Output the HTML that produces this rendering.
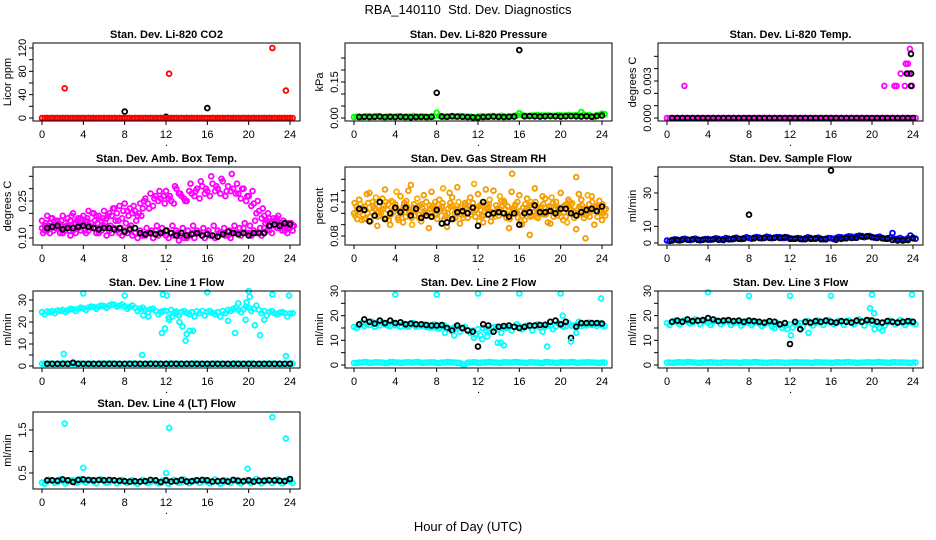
<!DOCTYPE html>
<html><head><meta charset="utf-8"><style>
html,body{margin:0;padding:0;background:#fff;}
svg{display:block;font-family:"Liberation Sans",Arial,sans-serif;}
</style></head><body>
<svg id="chart" width="936" height="540" viewBox="0 0 936 540" xmlns="http://www.w3.org/2000/svg">
<text x="468" y="14" text-anchor="middle" font-size="13">RBA_140110&#160; Std. Dev. Diagnostics</text>
<text x="468" y="531" text-anchor="middle" font-size="13">Hour of Day (UTC)</text>
</svg>
<script>
// ---------- data (colored series: x = start + 0.5*i; black series: x = 0.5..24 step 0.5) ----------
const xTicks = [0,4,8,12,16,20,24];
const xTickLabels = ["0","4","8","12","16","20","24"];

const co2Red = [0,0,0,0,0,0,0,0,0,0,0,0,0,0,0,0,0,0,0,0,0,0,0,0,0,0,0,0,0,0,0,0,0,0,0,0,0,0,0,0,0,0,0,0,0,0,0,0,0];
const co2Black = [0,0,0,0,0,0,0,0,0,0,0,0,0,0,0,11,0,0,0,0,0,0,0,2,0,0,0,0,0,0,0,17,0,0,0,0,0,0,0,0,0,0,0,0,0,0,0,0];
const co2OutX = [2.2,12.3,22.3,23.6];
const co2OutY = [51,76,120,47];

const presGreen = [0.004,0.006,0.005,0.007,0.005,0.006,0.004,0.006,0.005,0.007,0.006,0.005,0.006,0.004,0.005,0.006,0.022,0.007,0.006,0.008,0.006,0.007,0.005,0.004,0.006,0.007,0.006,0.008,0.005,0.007,0.006,0.009,0.020,0.010,0.008,0.011,0.009,0.010,0.008,0.009,0.011,0.010,0.008,0.012,0.025,0.010,0.007,0.012,0.018];
const presGreen2 = [0.006,0.004,0.007,0.005,0.008,0.004,0.006,0.005,0.007,0.004,0.006,0.008,0.005,0.006,0.004,0.007,0.009,0.005,0.007,0.006,0.008,0.005,0.006,0.003,0.007,0.005,0.008,0.006,0.009,0.005,0.007,0.010,0.012,0.008,0.010,0.012,0.010,0.011,0.009,0.012,0.010,0.013,0.011,0.009,0.014,0.012,0.004,0.013,0.016];
const presBlack = [0.004,0.005,0.004,0.005,0.006,0.004,0.005,0.004,0.005,0.004,0.003,0.004,0.005,0.004,0.005,0.105,0.006,0.005,0.007,0.006,0.005,0.004,0.003,0.002,0.004,0.005,0.006,0.005,0.004,0.005,0.006,0.283,0.007,0.008,0.007,0.006,0.007,0.008,0.007,0.006,0.007,0.008,0.007,0.006,0.007,0.005,0.008,0.010];

const tempMag = [0,0,0,0,0,0,0,0,0,0,0,0,0,0,0,0,0,0,0,0,0,0,0,0,0,0,0,0,0,0,0,0,0,0,0,0,0,0,0,0,0,0,0,0,0,0,0,0,0];
const tempBlack = [0,0,0,0,0,0,0,0,0,0,0,0,0,0,0,0,0,0,0,0,0,0,0,0,0,0,0,0,0,0,0,0,0,0,0,0,0,0,0,0,0,0,0,0,0,0,0,0];
const tempOutX = [1.7,21.2,22.2,22.4,22.8,23.2,23.3,23.5,23.6,23.7,23.9];
const tempOutY = [0.0026,0.0026,0.0026,0.0026,0.0036,0.0026,0.0044,0.0044,0.0036,0.0056,0.0026];
const tempBlackOutX = [23.4,23.8,23.8,23.8];
const tempBlackOutY = [0.0036,0.0052,0.0036,0.0026];

const ambLow = [0.14,0.13,0.15,0.14,0.12,0.15,0.13,0.14,0.16,0.13,0.14,0.12,0.15,0.13,0.14,0.12,0.13,0.14,0.12,0.13,0.11,0.12,0.13,0.12,0.11,0.12,0.13,0.11,0.10,0.12,0.13,0.11,0.12,0.11,0.13,0.12,0.11,0.13,0.12,0.14,0.12,0.13,0.12,0.14,0.13,0.15,0.14,0.13,0.14];
const ambHigh = [0.17,0.19,0.18,0.17,0.19,0.18,0.20,0.18,0.19,0.21,0.20,0.19,0.21,0.20,0.22,0.23,0.24,0.22,0.21,0.24,0.26,0.28,0.27,0.26,0.29,0.25,0.30,0.27,0.25,0.28,0.30,0.31,0.29,0.32,0.30,0.33,0.31,0.30,0.28,0.30,0.27,0.24,0.21,0.19,0.18,0.17,0.16,0.15,0.16];
const ambMid = [0.15,0.16,0.17,0.15,0.16,0.17,0.16,0.18,0.17,0.16,0.19,0.17,0.18,0.19,0.20,0.18,0.21,0.20,0.19,0.22,0.24,0.23,0.25,0.27,0.26,0.24,0.28,0.26,0.29,0.27,0.26,0.28,0.27,0.29,0.28,0.27,0.29,0.28,0.26,0.25,0.23,0.20,0.18,0.17,0.16,0.18,0.15,0.14,0.15];
const ambLow2 = [0.13,0.12,0.14,0.12,0.13,0.11,0.12,0.13,0.12,0.14,0.12,0.13,0.11,0.12,0.13,0.11,0.12,0.11,0.10,0.11,0.12,0.10,0.11,0.12,0.10,0.11,0.09,0.10,0.11,0.10,0.12,0.10,0.11,0.10,0.12,0.11,0.10,0.12,0.11,0.12,0.11,0.12,0.11,0.13,0.12,0.14,0.13,0.12,0.13];
const ambE = [0.16,0.18,0.14,0.17,0.15,0.19,0.17,0.15,0.18,0.20,0.16,0.18,0.19,0.22,0.17,0.21,0.19,0.23,0.20,0.25,0.22,0.26,0.29,0.24,0.27,0.31,0.28,0.25,0.32,0.29,0.33,0.30,0.35,0.31,0.34,0.29,0.36,0.32,0.30,0.27,0.29,0.25,0.22,0.20,0.18,0.19,0.17,0.16,0.15];
const ambF = [0.12,0.15,0.13,0.16,0.14,0.13,0.16,0.15,0.13,0.15,0.17,0.14,0.16,0.15,0.17,0.14,0.16,0.15,0.17,0.19,0.14,0.13,0.15,0.14,0.13,0.15,0.12,0.14,0.13,0.15,0.12,0.14,0.13,0.15,0.12,0.14,0.13,0.15,0.14,0.16,0.15,0.17,0.14,0.16,0.15,0.17,0.16,0.15,0.16];
const ambBlack = [0.14,0.145,0.15,0.135,0.14,0.14,0.145,0.15,0.145,0.14,0.135,0.14,0.14,0.135,0.14,0.125,0.135,0.14,0.12,0.115,0.12,0.115,0.12,0.13,0.12,0.11,0.12,0.11,0.115,0.12,0.11,0.115,0.11,0.105,0.115,0.125,0.12,0.115,0.12,0.11,0.12,0.12,0.12,0.15,0.155,0.15,0.16,0.155];

const rhA = [0.100,0.112,0.095,0.118,0.104,0.098,0.121,0.090,0.108,0.115,0.097,0.125,0.102,0.093,0.110,0.119,0.099,0.106,0.088,0.114,0.123,0.101,0.096,0.109,0.117,0.092,0.105,0.120,0.098,0.111,0.087,0.103,0.116,0.094,0.107,0.122,0.100,0.113,0.091,0.104,0.118,0.097,0.108,0.086,0.112,0.099,0.115,0.106,0.094];
const rhB = [0.106,0.094,0.117,0.101,0.089,0.113,0.103,0.110,0.096,0.092,0.120,0.105,0.099,0.116,0.087,0.104,0.112,0.095,0.118,0.100,0.091,0.109,0.114,0.097,0.103,0.121,0.093,0.107,0.111,0.096,0.119,0.101,0.090,0.113,0.098,0.105,0.115,0.092,0.109,0.102,0.094,0.112,0.100,0.117,0.096,0.108,0.090,0.111,0.103];
const rhC = [0.098,0.108,0.103,0.093,0.114,0.100,0.096,0.111,0.119,0.102,0.106,0.090,0.113,0.105,0.101,0.097,0.108,0.122,0.104,0.095,0.110,0.099,0.106,0.126,0.093,0.101,0.112,0.097,0.115,0.104,0.099,0.108,0.094,0.103,0.110,0.097,0.106,0.101,0.114,0.098,0.105,0.092,0.109,0.103,0.099,0.116,0.102,0.107,0.100];
const rhD = [0.103,0.099,0.109,0.106,0.101,0.107,0.094,0.104,0.102,0.109,0.101,0.098,0.107,0.100,0.104,0.110,0.102,0.097,0.106,0.103,0.099,0.105,0.102,0.104,0.098,0.107,0.101,0.104,0.100,0.106,0.103,0.096,0.105,0.101,0.108,0.102,0.099,0.106,0.103,0.100,0.107,0.104,0.101,0.105,0.099,0.103,0.106,0.101,0.104];
const rhE = [0.109,0.101,0.106,0.097,0.108,0.103,0.110,0.099,0.105,0.100,0.111,0.096,0.104,0.108,0.098,0.106,0.095,0.109,0.100,0.107,0.104,0.096,0.110,0.101,0.106,0.098,0.108,0.100,0.104,0.109,0.095,0.106,0.102,0.108,0.097,0.110,0.104,0.099,0.106,0.110,0.097,0.108,0.103,0.098,0.107,0.101,0.110,0.097,0.108];
const rhF = [0.095,0.105,0.100,0.110,0.097,0.104,0.108,0.101,0.094,0.106,0.103,0.108,0.096,0.102,0.107,0.099,0.104,0.101,0.109,0.096,0.105,0.107,0.099,0.103,0.108,0.104,0.097,0.102,0.106,0.099,0.104,0.110,0.098,0.105,0.101,0.096,0.108,0.103,0.097,0.105,0.101,0.110,0.096,0.106,0.104,0.097,0.105,0.102,0.098];
const rhBlack = [0.104,0.103,0.093,0.098,0.110,0.095,0.100,0.105,0.101,0.105,0.098,0.104,0.096,0.098,0.097,0.103,0.091,0.092,0.095,0.101,0.102,0.100,0.105,0.089,0.110,0.099,0.100,0.101,0.100,0.097,0.100,0.090,0.100,0.101,0.107,0.101,0.101,0.102,0.100,0.104,0.104,0.100,0.098,0.101,0.103,0.104,0.102,0.106];
const rhOutX = [15.3,17.0,22.4,21.5];
const rhOutY = [0.135,0.081,0.078,0.132];

const flowBlue = [1.5,1.8,2.0,2.2,2.0,2.3,2.1,2.0,2.4,2.2,2.5,2.3,2.6,2.8,2.5,2.9,3.0,3.2,3.3,3.0,3.4,3.2,3.5,3.0,2.8,2.6,2.7,2.9,3.0,2.8,2.6,2.5,2.8,3.0,3.4,3.6,3.8,4.0,4.2,3.9,3.6,3.4,3.0,2.8,6.0,2.5,2.2,2.8,3.2];
const flowBlue2 = [1.2,2.2,1.5,2.5,1.8,2.6,1.6,2.4,2.0,2.8,2.1,3.0,2.2,3.2,2.4,3.4,2.6,3.6,2.8,3.8,2.9,3.6,3.0,3.4,2.5,3.0,2.2,3.4,2.5,3.2,2.2,3.0,2.4,3.6,2.9,4.0,3.2,4.4,3.5,4.2,3.2,3.8,2.6,3.2,2.4,3.0,2.0,4.5,2.6];
const flowBlack = [1.5,1.8,2.0,2.0,2.1,1.9,2.0,2.0,2.2,2.0,1.8,2.2,2.4,2.5,2.6,17,2.8,3.0,3.2,3.0,3.1,3.0,3.5,2.5,2.5,2.4,2.3,2.5,2.6,2.3,2.2,43.5,2.0,2.5,2.8,3.0,3.1,3.8,4.0,3.5,3.0,2.8,2.5,1.8,1.5,1.5,1.8,2.8];

const line1Cyan = [24.5,24.8,25,25.2,25.5,25.3,25.8,26,26.2,26.5,26.8,27,27.2,27.5,27.8,27.5,27,26.8,26.5,26,25.5,25.8,25,24.5,25,25.5,24.8,24.5,24.2,24.5,24.8,25,24.5,24.2,24.5,25,25.5,26,25.5,25.8,26.5,26,25.5,25,24.5,24,24.2,24,23.8];
const line1Cyan2 = [23.5,24.5,24,25,24.5,26,25,26.5,25.5,27,26,27.5,26.5,28,27,28,26,27.5,25,26.5,24.5,26,23.5,25,22,24,23,25,23.5,22.5,24,23,25,23.5,22.5,24,25,26.5,24.5,27,25,27.5,24,23,25,23.5,24.5,22.5,24];
const line1Low = [1.0,1.1,0.9,1.0,1.2,1.0,0.9,1.1,1.0,1.0,0.9,1.1,1.0,1.2,1.0,0.9,1.0,1.1,1.0,0.9,1.0,1.1,1.0,0.8,1.0,1.1,1.0,0.9,1.0,1.1,1.0,1.0,0.9,1.1,1.0,1.0,0.9,1.1,1.0,1.0,1.1,0.9,1.0,1.0,1.1,1.0,0.9,1.0,1.1];
const line1Black = [1,1,1,1,1,1.5,1,1,1,1,1,1,1,1,1,1,1,1,1,1,1,1,1,1,1,1,1,1,1,1,1,1,1,1,1,1,1,1,1,1,1,1,1,1,1,1,1,1];
const line1OutX = [4,8,16,20,22.3,23.9,11.7,12.1,11.6,11.9,12.3,12.6,13,13.3,13.6,13.9,14,14.3,14.6,9.8,10.3,18,18.7,19.7,20.6,21.1,21.5,2.1,9.7,23.6,20.1,19.8,19];
const line1OutY = [33,32,33.5,34,32.5,32,32.5,32,15,17,21,22.5,24,20,18,11.5,14.5,16,16,23,22.5,20.5,15,21,18.5,14,21,5.5,5,4.5,31.5,29,28.5];

const line2Cyan = [15.5,16,15.8,16.2,15.5,16,16.5,15.8,16,15.5,15.8,16.2,15.5,15.8,15.5,15.2,15,15.5,15.2,14.8,15,14.5,14.2,14,14.5,15,14.8,15.2,14.5,15,15.2,15.5,15.8,15.2,15.5,15.8,15.2,15.5,16,15.5,16.2,15.8,16,16.2,15.8,16,16.2,15.8,16];
const line2Cyan2 = [15,17,16.5,17.5,16.8,17.2,16,17,16.5,16.8,15.5,17,16,16.5,15.2,16.5,14.8,16,14.5,15.5,13.5,15.5,13,12.5,12,14,13.5,15.5,13,15,14,16.5,14.5,16,14,16.5,13.5,16,14.5,17,15.5,17,16,17.5,16.2,17.2,16.5,17,15.8];
const line2Low = [0.8,1.0,1.2,0.9,1.1,1.0,0.8,1.2,1.0,0.9,1.1,1.0,1.2,0.9,1.0,1.1,0.8,1.0,1.2,1.0,0.9,0.3,1.0,1.1,0.9,1.0,1.2,1.0,0.9,1.1,1.0,1.2,1.0,0.9,1.1,1.0,0.8,1.2,1.0,0.9,1.1,1.0,1.2,0.9,1.0,1.1,1.0,0.9,1.0];
const line2Black = [16.5,18.5,17.5,16.8,18,17,18,17,17.3,16.5,16.8,16.5,16.5,16.2,16,16,16.2,15,14,16,15,14,13.5,7.5,16.5,16,13.5,15.5,15.8,16,15.5,15,15.5,16,16,16.2,16.3,17.5,18,16.5,17.5,11,15.5,17,17,17,17,16.8];
const line2OutX = [4,8,12,16,20,23.9,20.2,9.7,8.8,11.6,12.4,12.9,13.9,14.2,14.5,18.7,21,21.5];
const line2OutY = [28.5,28.5,29,29,29,27,20,12,13,11,10.5,11.5,9,9,8,7.5,9.5,13];

const line3Cyan = [17,17.5,17.2,17.8,17.5,17.2,17.8,17.5,17.2,17.5,17.8,17.2,17.5,17,17.2,16.8,17,17.2,16.8,16.5,16.8,16.5,16.2,15.8,16.5,16.8,17,17.2,16.8,17,17.2,17.5,17.2,17,17.5,17.8,17.2,17.5,17.8,17.5,16.8,16.5,17,17.2,17.5,17.2,17,17.2,17];
const line3Cyan2 = [16.2,18,16.5,18.2,16.8,18.5,16.5,18,16.2,18.2,16.5,18,16.2,17.5,16,17.8,16.2,17.5,15.8,17.2,15.5,17,15,14.5,15.2,16.5,15.5,17.8,16,18,16.2,18.2,16.5,17.8,16.2,18,16.5,18.5,16,18.2,14.5,15,16,18,16.5,18.2,16.2,17.8,16.5];
const line3Low = [1.0,0.9,1.1,1.0,1.2,1.0,0.9,1.0,1.1,1.0,0.9,1.1,1.0,1.0,0.9,1.1,1.0,1.2,1.0,0.9,1.0,1.1,1.0,0.9,1.0,1.1,1.0,1.0,0.9,1.1,1.0,1.0,0.9,1.1,1.0,1.2,1.0,0.9,1.0,1.1,1.0,1.2,1.0,0.9,1.1,1.0,1.0,0.9,1.0];
const line3Black = [17.5,18,17.5,18.5,17.8,18,18.2,19,18.5,17.8,18,18.2,17.8,18,17.5,18,17.8,17.5,17.2,17.8,17.5,16.5,17,8.5,17.5,14.5,17.5,17.2,17.8,17.5,18,17.5,17.2,17.8,17.5,17.2,18,17.5,18.2,18,17.5,17.2,17.8,17.5,17.2,17.5,17.8,17.5];
const line3OutX = [4,8,12,16,20,23.9,19.8,20.2,21,12.1,10.5,13.8];
const line3OutY = [29.5,28,28,28,28.5,28.5,23,21,14,12,15,13];

const line4Cyan = [0.28,0.30,0.32,0.29,0.31,0.30,0.33,0.29,0.31,0.32,0.30,0.34,0.31,0.29,0.32,0.30,0.31,0.29,0.28,0.30,0.31,0.29,0.30,0.27,0.31,0.30,0.32,0.29,0.31,0.30,0.32,0.30,0.29,0.31,0.30,0.28,0.31,0.32,0.29,0.31,0.30,0.32,0.31,0.30,0.33,0.31,0.30,0.32,0.31];
const line4Cyan2 = [0.25,0.34,0.27,0.35,0.26,0.33,0.27,0.36,0.28,0.34,0.26,0.35,0.27,0.33,0.26,0.34,0.27,0.33,0.25,0.34,0.27,0.32,0.26,0.33,0.25,0.34,0.27,0.35,0.26,0.33,0.27,0.34,0.26,0.35,0.25,0.33,0.27,0.34,0.26,0.33,0.27,0.36,0.26,0.34,0.27,0.35,0.26,0.34,0.27];
const line4Black = [0.33,0.33,0.32,0.35,0.33,0.29,0.34,0.35,0.34,0.33,0.34,0.33,0.34,0.33,0.32,0.31,0.30,0.31,0.30,0.31,0.34,0.33,0.29,0.33,0.30,0.31,0.34,0.30,0.31,0.33,0.34,0.33,0.30,0.31,0.32,0.30,0.34,0.32,0.31,0.33,0.30,0.32,0.32,0.33,0.33,0.32,0.31,0.36];
const line4OutX = [2.2,12.3,22.3,23.6,4,19.9,12];
const line4OutY = [1.65,1.55,1.8,1.3,0.62,0.6,0.5];

// ---------- layout ----------
const NS = "http://www.w3.org/2000/svg";
const svg = document.getElementById("chart");
const cols = [[33,300],[345,612],[658,923]];
const rows = [[43,121],[167,245],[291,368],[412,489]];

function mk(tag, attrs, parent) {
  const e = document.createElementNS(NS, tag);
  for (const k in attrs) e.setAttribute(k, attrs[k]);
  (parent || svg).appendChild(e);
  return e;
}
function range(a, b, s) { const r = []; for (let v = a; v <= b + s * 1e-6; v += s) r.push(+v.toFixed(6)); return r; }

const panels = [
  {title:"Stan. Dev. Li-820 CO2", ylab:"Licor ppm", c:0, r:0, cal:[0,118,120,48], ticks:range(0,120,20), labs:{0:"0",40:"40",80:"80",120:"120"},
   series:[{ys:co2Black,start:0.5,col:"#000"},{ys:co2Red,start:0,col:"#f00"},{ys:co2Red,start:0.25,col:"#f00"}], outs:[{xs:co2OutX,ys:co2OutY,col:"#f00"}]},
  {title:"Stan. Dev. Li-820 Pressure", ylab:"kPa", c:1, r:0, cal:[0,118,0.15,82], ticks:range(0,0.25,0.05), labs:{0:"0.00",0.15:"0.15"},
   series:[{ys:presGreen,start:0,col:"#0f0"},{ys:presGreen2,start:0.25,col:"#0f0"},{ys:presBlack,start:0.5,col:"#000"}], outs:[]},
  {title:"Stan. Dev. Li-820 Temp.", ylab:"degrees C", c:2, r:0, cal:[0,118,0.003,81], ticks:range(0,0.005,0.001), labs:{0:"0.000",0.003:"0.003"},
   series:[{ys:tempMag,start:0,col:"#f0f"},{ys:tempMag,start:0.25,col:"#f0f"},{ys:tempBlack,start:0.5,col:"#000"}], outs:[{xs:tempOutX,ys:tempOutY,col:"#f0f"},{xs:tempBlackOutX,ys:tempBlackOutY,col:"#000"}]},
  {title:"Stan. Dev. Amb. Box Temp.", ylab:"degrees C", c:0, r:1, cal:[0.10,238,0.25,201], ticks:range(0.10,0.35,0.05), labs:{0.1:"0.10",0.25:"0.25"},
   series:[{ys:ambLow,start:0,col:"#f0f"},{ys:ambLow2,start:0.25,col:"#f0f"},{ys:ambF,start:0.12,col:"#f0f"},{ys:ambMid,start:0.25,col:"#f0f"},{ys:ambE,start:0.37,col:"#f0f"},{ys:ambHigh,start:0,col:"#f0f"},{ys:ambBlack,start:0.5,col:"#000"}], outs:[]},
  {title:"Stan. Dev. Gas Stream RH", ylab:"percent", c:1, r:1, cal:[0.08,236,0.11,202], ticks:range(0.08,0.13,0.01), labs:{0.08:"0.08",0.11:"0.11"},
   series:[{ys:rhA,start:0,col:"#f59a00"},{ys:rhB,start:0.25,col:"#f59a00"},{ys:rhC,start:0.12,col:"#f5b000"},{ys:rhD,start:0.37,col:"#f59a00"},{ys:rhE,start:0.06,col:"#f5a000"},{ys:rhF,start:0.31,col:"#f5a000"},{ys:rhBlack,start:0.5,col:"#000"}], outs:[{xs:rhOutX,ys:rhOutY,col:"#f59a00"}]},
  {title:"Stan. Dev. Sample Flow", ylab:"ml/min", c:2, r:1, cal:[0,243,30,193], ticks:range(0,40,10), labs:{0:"0",10:"10",30:"30"},
   series:[{ys:flowBlue,start:0,col:"#00f"},{ys:flowBlue2,start:0.25,col:"#00f"},{ys:flowBlack,start:0.5,col:"#000"}], outs:[]},
  {title:"Stan. Dev. Line 1 Flow", ylab:"ml/min", c:0, r:2, cal:[0,366,30,300], ticks:range(0,30,5), labs:{0:"0",10:"10",20:"20",30:"30"},
   series:[{ys:line1Cyan,start:0,col:"#0ff"},{ys:line1Cyan2,start:0.25,col:"#0ff"},{ys:line1Low,start:0,col:"#0ff"},{ys:line1Low,start:0.25,col:"#0ff"},{ys:line1Black,start:0.5,col:"#000"}], outs:[{xs:line1OutX,ys:line1OutY,col:"#0ff"}]},
  {title:"Stan. Dev. Line 2 Flow", ylab:"ml/min", c:1, r:2, cal:[0,365,30,291], ticks:range(0,30,5), labs:{0:"0",10:"10",20:"20",30:"30"},
   series:[{ys:line2Cyan,start:0,col:"#0ff"},{ys:line2Cyan2,start:0.25,col:"#0ff"},{ys:line2Low,start:0,col:"#0ff"},{ys:line2Low,start:0.25,col:"#0ff"},{ys:line2Black,start:0.5,col:"#000"}], outs:[{xs:line2OutX,ys:line2OutY,col:"#0ff"}]},
  {title:"Stan. Dev. Line 3 Flow", ylab:"ml/min", c:2, r:2, cal:[0,365,30,291], ticks:range(0,30,5), labs:{0:"0",10:"10",20:"20",30:"30"},
   series:[{ys:line3Cyan,start:0,col:"#0ff"},{ys:line3Cyan2,start:0.25,col:"#0ff"},{ys:line3Low,start:0,col:"#0ff"},{ys:line3Low,start:0.25,col:"#0ff"},{ys:line3Black,start:0.5,col:"#000"}], outs:[{xs:line3OutX,ys:line3OutY,col:"#0ff"}]},
  {title:"Stan. Dev. Line 4 (LT) Flow", ylab:"ml/min", c:0, r:3, cal:[0.5,473,1.5,430], ticks:range(0.5,1.5,0.5), labs:{0.5:"0.5",1.5:"1.5"},
   series:[{ys:line4Cyan,start:0,col:"#0ff"},{ys:line4Cyan2,start:0.25,col:"#0ff"},{ys:line4Black,start:0.5,col:"#000"}], outs:[{xs:line4OutX,ys:line4OutY,col:"#0ff"}]}
];

panels.forEach((p, pi) => {
  const L = cols[p.c][0], R = cols[p.c][1], T = rows[p.r][0], B = rows[p.r][1];
  const x0 = L + 9, x24 = R - 10;
  const xs = h => x0 + (x24 - x0) * h / 24;
  const ys = v => p.cal[1] + (v - p.cal[0]) * (p.cal[3] - p.cal[1]) / (p.cal[2] - p.cal[0]);
  const g = mk("g", {});
  
  
  const t = mk("text", {x:(L+R)/2, y:T-5, "text-anchor":"middle", "font-size":"11", "font-weight":"bold"}, g);
  t.textContent = p.title;
  
  
  const yl = mk("text", {x:0, y:0, transform:`translate(${L-22},${(T+B)/2}) rotate(-90)`, "text-anchor":"middle", "font-size":"11"}, g);
  yl.textContent = p.ylab;
  
  
  const dot = mk("text", {x:(L+R)/2, y:B+25, "text-anchor":"middle", "font-size":"11"}, g);
  dot.textContent = ".";
  
  
  const pts = mk("g", {fill:"none", "stroke-width":"1.8"}, g);
  
  
  p.series.forEach(s => {
    s.ys.forEach((v, i) => {
      const c = mk("circle", {cx:xs(s.start + i*0.5).toFixed(1), cy:ys(v).toFixed(1), r:"2.4", stroke:s.col}, pts);
      
      
    });
  });
  p.outs.forEach(o => {
    o.xs.forEach((h, i) => {
      const c = mk("circle", {cx:xs(h).toFixed(1), cy:ys(o.ys[i]).toFixed(1), r:"2.4", stroke:o.col}, pts);
      
      
    });
  });
  const box = mk("rect", {x:L, y:T, width:R-L, height:B-T, fill:"none", stroke:"#000", "stroke-width":"1"}, g);
  
  
  const xa = mk("g", {stroke:"#000", "stroke-width":"1"}, g);
  
  
  xTicks.forEach((h, i) => {
    mk("line", {x1:xs(h), x2:xs(h), y1:B, y2:B+4}, xa);
    const tl = mk("text", {x:xs(h), y:B+17, "text-anchor":"middle", "font-size":"11", stroke:"none"}, xa);
    tl.textContent = xTickLabels[i];
    
    
  });
  const ya = mk("g", {stroke:"#000", "stroke-width":"1"}, g);
  
  
  p.ticks.forEach(v => {
    const y = ys(v);
    mk("line", {x1:L-4, x2:L, y1:y, y2:y}, ya);
    const key = Object.keys(p.labs).find(k => Math.abs(+k - v) < 1e-9);
    if (key !== undefined) {
      const tl = mk("text", {x:0, y:0, transform:`translate(${L-7},${y}) rotate(-90)`, "text-anchor":"middle", "font-size":"11", stroke:"none"}, ya);
      tl.textContent = p.labs[key];
      
      
    }
  });
});
</script>
</body></html>
